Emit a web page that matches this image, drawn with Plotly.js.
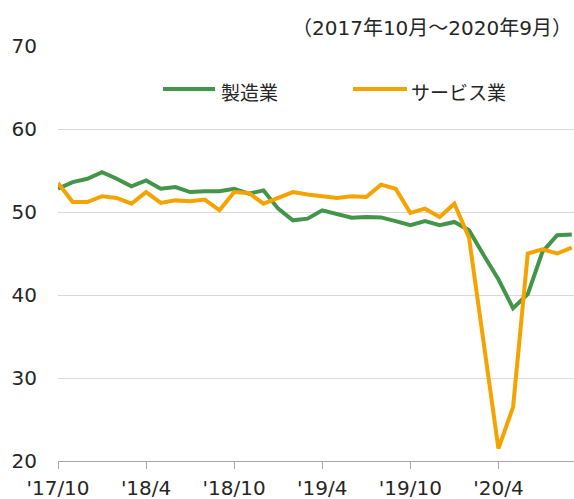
<!DOCTYPE html>
<html>
<head>
<meta charset="utf-8">
<script src="https://cdn.plot.ly/plotly-3.0.1.min.js"></script>
<style>
  html, body { margin: 0; padding: 0; background: #fff; }
  #chart { width: 574px; height: 499px; }
</style>
</head>
<body>
<div id="chart"></div>
<script>
// Months from 2017/10 to 2020/9 (36 points)
const months = [
  "2017/10","2017/11","2017/12",
  "2018/1","2018/2","2018/3","2018/4","2018/5","2018/6","2018/7","2018/8","2018/9","2018/10","2018/11","2018/12",
  "2019/1","2019/2","2019/3","2019/4","2019/5","2019/6","2019/7","2019/8","2019/9","2019/10","2019/11","2019/12",
  "2020/1","2020/2","2020/3","2020/4","2020/5","2020/6","2020/7","2020/8","2020/9"
];
const seriesNames = ["製造業", "サービス業"];
const manufacturing = [
  52.8, 53.6, 54.0, 54.8, 54.0, 53.1, 53.8, 52.8, 53.0, 52.4, 52.5, 52.5,
  52.8, 52.2, 52.6, 50.4, 49.0, 49.2, 50.2, 49.8, 49.3, 49.4, 49.35, 48.9,
  48.4, 48.9, 48.4, 48.8, 47.8, 44.8, 41.9, 38.4, 40.1, 45.2, 47.2, 47.3
];
const services = [
  53.5, 51.2, 51.2, 51.9, 51.7, 51.0, 52.4, 51.1, 51.4, 51.3, 51.5, 50.2,
  52.4, 52.3, 51.0, 51.7, 52.4, 52.1, 51.9, 51.7, 51.9, 51.8, 53.3, 52.8,
  49.9, 50.4, 49.4, 51.0, 46.9, 33.8, 21.5, 26.5, 45.0, 45.5, 45.0, 45.7
];
const tickMonths = ["2017/10","2018/4","2018/10","2019/4","2019/10","2020/4"];
const tickLabels = ["'17/10","'18/4","'18/10","'19/4","'19/10","'20/4"];
const yTicks = [20, 30, 40, 50, 60, 70];
const periodNote = "（2017年10月～2020年9月）";

const colors = ["#43954a", "#f5a300"];
const idx = months.map((_, i) => i);
const tickIdx = tickMonths.map(m => months.indexOf(m));

const traces = [manufacturing, services].map((vals, k) => ({
  x: idx, y: vals, type: "scatter", mode: "lines",
  name: seriesNames[k],
  line: { color: colors[k], width: 4 },
  hoverinfo: "skip", showlegend: false
}));

const mixFamily = "'DejaVu Sans', 'Noto Sans CJK JP', sans-serif";
const xFont = { family: mixFamily, size: 20, color: "#262626" };
const yFont = { family: mixFamily, size: 20, color: "#262626" };
const jpFont = { family: "'Noto Sans CJK JP', sans-serif", size: 19, color: "#262626" };

// custom legend (paper coords)
const L = 58, W = 574 - 58, B = 461, H = 415;
const px = v => (v - L) / W;
const py = v => (B - v) / H;
const legendItems = [
  { x0: 163, x1: 215, tx: 219 },
  { x0: 353, x1: 407, tx: 409 }
];
const shapes = legendItems.map((it, k) => ({
  type: "line", xref: "paper", yref: "paper",
  x0: px(it.x0), x1: px(it.x1), y0: py(89), y1: py(89),
  line: { color: colors[k], width: 4 }
}));
const annotations = legendItems.map((it, k) => ({
  xref: "paper", yref: "paper", x: px(it.tx), y: py(91),
  xanchor: "left", yanchor: "middle", text: seriesNames[k],
  showarrow: false, font: jpFont
}));
annotations.push({
  xref: "paper", yref: "paper", x: px(574), y: py(28),
  xanchor: "right", yanchor: "middle", text: periodNote,
  showarrow: false, font: { family: mixFamily, size: 20, color: "#262626" }
});

const layout = {
  width: 574, height: 499,
  margin: { l: 58, r: 0, t: 46, b: 38, pad: 0 },
  paper_bgcolor: "#ffffff", plot_bgcolor: "#ffffff",
  showlegend: false,
  xaxis: {
    range: [0, 35.15], tickmode: "array", tickvals: tickIdx, ticktext: tickLabels,
    showgrid: false, zeroline: false, showline: true, linecolor: "#a6a6a6", linewidth: 1,
    ticks: "outside", ticklen: 7, tickcolor: "#a6a6a6", tickwidth: 1,
    tickfont: xFont, ticklabelstandoff: 2, fixedrange: true
  },
  yaxis: {
    range: [20, 70], tickmode: "array", tickvals: yTicks,
    showgrid: true, gridcolor: "#d9d9d9", gridwidth: 1, zeroline: false,
    showline: false, ticks: "", tickfont: yFont, ticklabelstandoff: 20, fixedrange: true
  },
  shapes: shapes,
  annotations: annotations
};

Plotly.newPlot("chart", traces, layout, { displayModeBar: false, staticPlot: true });
</script>
</body>
</html>
